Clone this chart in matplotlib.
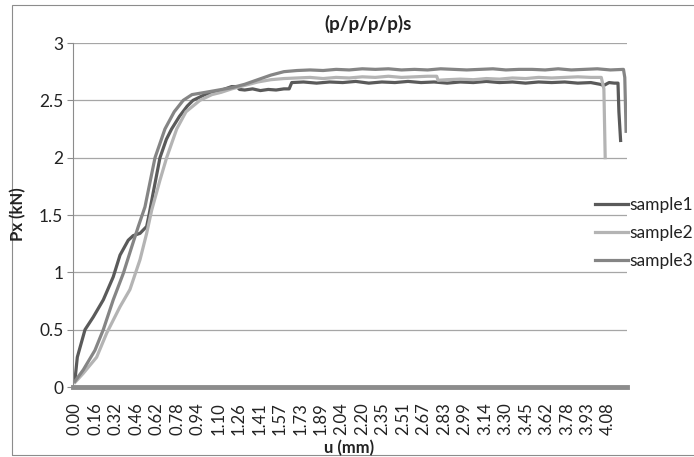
import matplotlib
matplotlib.use("Agg")
import matplotlib.pyplot as plt
from matplotlib.patches import Rectangle
import numpy as np

plt.rcParams['font.family'] = ['Lato', 'DejaVu Sans']

# displacement u (mm) and force Px (kN)
u1 = [0.00, 0.018, 0.077, 0.14, 0.217, 0.293, 0.345, 0.408, 0.446, 0.498, 0.549,
      0.567, 0.60, 0.651, 0.70, 0.740, 0.80, 0.86, 0.904, 0.995, 1.05, 1.10, 1.15,
      1.20, 1.24, 1.26, 1.30, 1.36, 1.42, 1.48, 1.54, 1.60, 1.64, 1.66, 1.75, 1.85,
      1.95, 2.05, 2.15, 2.25, 2.35, 2.45, 2.55, 2.65, 2.75, 2.85, 2.95, 3.05, 3.15,
      3.25, 3.35, 3.45, 3.55, 3.65, 3.75, 3.85, 3.95, 4.02, 4.05, 4.09, 4.13, 4.158,
      4.165, 4.178]
p1 = [0.06, 0.26, 0.50, 0.61, 0.76, 0.96, 1.15, 1.28, 1.32, 1.34, 1.40,
      1.50, 1.70, 2.00, 2.16, 2.25, 2.36, 2.45, 2.50, 2.55, 2.57, 2.58, 2.60,
      2.62, 2.62, 2.595, 2.59, 2.60, 2.585, 2.595, 2.59, 2.60, 2.60, 2.655, 2.66, 2.65,
      2.66, 2.655, 2.665, 2.65, 2.66, 2.655, 2.665, 2.655, 2.66, 2.65, 2.66, 2.655, 2.665,
      2.655, 2.66, 2.65, 2.66, 2.655, 2.66, 2.65, 2.655, 2.64, 2.63, 2.655, 2.65, 2.65,
      2.40, 2.15]

u2 = [0.00, 0.064, 0.166, 0.243, 0.345, 0.421, 0.498, 0.549, 0.587, 0.65, 0.702,
      0.779, 0.85, 0.957, 1.049, 1.12, 1.20, 1.30, 1.40, 1.50, 1.60, 1.70, 1.80,
      1.90, 2.00, 2.10, 2.20, 2.30, 2.40, 2.50, 2.60, 2.70, 2.77, 2.78, 2.85, 2.95,
      3.05, 3.15, 3.25, 3.35, 3.45, 3.55, 3.65, 3.75, 3.85, 3.95, 4.03, 4.05, 4.06]
p2 = [0.04, 0.12, 0.26, 0.47, 0.70, 0.85, 1.11, 1.34, 1.54, 1.80, 2.00,
      2.25, 2.40, 2.50, 2.55, 2.57, 2.60, 2.63, 2.66, 2.68, 2.69, 2.695, 2.70,
      2.69, 2.70, 2.695, 2.705, 2.70, 2.71, 2.70, 2.705, 2.71, 2.71, 2.675, 2.68, 2.685,
      2.68, 2.69, 2.685, 2.695, 2.69, 2.70, 2.695, 2.70, 2.705, 2.70, 2.70, 2.60, 2.00]

u3 = [0.00, 0.064, 0.153, 0.217, 0.293, 0.37, 0.434, 0.485, 0.536, 0.613, 0.689,
      0.76, 0.829, 0.896, 1.00, 1.10, 1.20, 1.30, 1.40, 1.50, 1.60, 1.70, 1.80,
      1.90, 2.00, 2.10, 2.20, 2.30, 2.40, 2.50, 2.60, 2.70, 2.80, 2.90, 3.00, 3.10,
      3.20, 3.30, 3.40, 3.50, 3.60, 3.70, 3.80, 3.90, 4.00, 4.10, 4.20, 4.21, 4.22]
p3 = [0.05, 0.15, 0.32, 0.50, 0.76, 0.99, 1.22, 1.40, 1.57, 2.00, 2.25,
      2.40, 2.50, 2.55, 2.57, 2.59, 2.61, 2.64, 2.68, 2.72, 2.75, 2.76, 2.765,
      2.76, 2.77, 2.765, 2.775, 2.77, 2.775, 2.765, 2.77, 2.765, 2.775, 2.77, 2.765, 2.77,
      2.775, 2.765, 2.77, 2.77, 2.765, 2.775, 2.765, 2.77, 2.775, 2.765, 2.77, 2.70, 2.23]

xlabels = ['0.00', '0.16', '0.32', '0.46', '0.62', '0.78', '0.94', '1.10', '1.26',
           '1.41', '1.57', '1.73', '1.89', '2.04', '2.20', '2.35', '2.51', '2.67',
           '2.83', '2.99', '3.14', '3.30', '3.45', '3.62', '3.78', '3.93', '4.08']

names = ['sample1', 'sample2', 'sample3']
colors = ['#5a5a5a', '#b4b4b4', '#858585']

W, H = 694, 457
fig = plt.figure(figsize=(W / 100, H / 100), dpi=100)
# chart area border
fig.patches.append(Rectangle((12 / W, 2 / H), 1.2, 1 - 7 / H, transform=fig.transFigure,
                             fill=False, edgecolor='#8c8c8c', linewidth=0.8))

ax = fig.add_axes([73 / W, 1 - 387 / H, 554 / W, 344 / H])
for u, p, c, n in zip([u1, u2, u3], [p1, p2, p3], colors, names):
    ax.plot(u, p, color=c, linewidth=2.3, label=n, solid_joinstyle='round')

ax.set_xlim(-0.015, 4.227)
ax.set_ylim(0, 3)
ax.set_yticks(np.arange(0, 3.01, 0.5))
ax.set_yticklabels(['0', '0.5', '1', '1.5', '2', '2.5', '3'])
ax.set_xticks(np.linspace(0, 4.08, len(xlabels)))
ax.set_xticklabels(xlabels, rotation=90)
ax.grid(axis='y', color='#a6a6a6', linewidth=0.9)
ax.set_axisbelow(True)

for s in ['top', 'right']:
    ax.spines[s].set_visible(False)
ax.spines['left'].set_color('#8c8c8c')
ax.spines['bottom'].set_color('#8c8c8c')
ax.spines['bottom'].set_linewidth(3.5)
ax.tick_params(axis='y', length=4, color='#8c8c8c', labelsize=12.5, labelcolor='#222222', pad=3)
ax.tick_params(axis='x', length=0, labelsize=12, labelcolor='#222222', pad=11)

fig.text(368 / W, 1 - 24 / H, '(p/p/p/p)s', ha='center', va='center',
         fontsize=13.5, fontweight='bold', color='#222222')
fig.text(18 / W, 1 - 214 / H, 'Px (kN)', ha='center', va='center', rotation=90,
         fontsize=12, fontweight='bold', color='#222222')
fig.text(349 / W, 1 - 448 / H, 'u (mm)', ha='center', va='center',
         fontsize=12, fontweight='bold', color='#222222')

fig.legend(loc='center left', bbox_to_anchor=(595 / W, 1 - 233 / H), frameon=False,
           fontsize=12.5, handlelength=1.9, handletextpad=0.1, labelspacing=0.7,
           labelcolor='#222222', borderaxespad=0, borderpad=0)

fig.savefig('out.png', dpi=100)
